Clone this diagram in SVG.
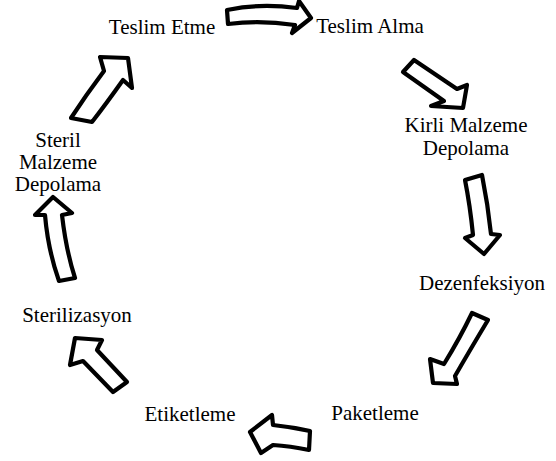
<svg xmlns="http://www.w3.org/2000/svg" width="556" height="461" viewBox="0 0 556 461">
<defs>
<filter id="soft" x="-10%" y="-10%" width="120%" height="120%"><feGaussianBlur stdDeviation="0.5"/></filter>
<style>
.lbl{font-family:"Liberation Serif","Times New Roman",serif;font-size:21px;fill:#000;text-anchor:middle}
.arr{fill:#fff;stroke:#000;stroke-width:4.2;stroke-linejoin:round;filter:url(#soft)}
</style>
</defs>
<rect width="556" height="461" fill="#fff"/>
<g id="connectors">
<path class="arr" d="M227,10 Q260,3 297,8 L299,1 L311,18 L292,33 L295,25 Q260,20 228,24 Z"/>
<path class="arr" d="M414,60 L457,89 L467,85 L463,108 L431,106 L444,101 L403,72 Z"/>
<path class="arr" d="M465,180 L482,175 Q488,205 491,234 L500,235 L484,254 L465,238 L473,235 Q470,205 465,180 Z"/>
<path class="arr" d="M472,313 L488,320 Q470,350 455,376 L457,384 L433,383 L430,359 L444,364 Q460,338 472,313 Z"/>
<path class="arr" d="M310,431 L309,450 Q290,446 273,445 L261,453 L250,432 L272,415 L273,425 Q292,427 310,431 Z"/>
<path class="arr" d="M127,382 L113,392 L83,361 L70,365 L75,338 L102,340 L97,350 Z"/>
<path class="arr" d="M53,197 L72,213 L62,215 Q66,250 75,278 L59,281 Q48,250 45,215 L35,215 Z"/>
<path class="arr" d="M71,118 Q86,95 104,71 L100,57 L128,58 L132,88 L123,80 Q106,104 92,122 Z"/>
</g>
<g id="teslim-etme"><text class="lbl" x="162" y="34">Teslim Etme</text></g>
<g id="teslim-alma"><text class="lbl" x="370" y="33">Teslim Alma</text></g>
<g id="kirli-malzeme-depolama"><text class="lbl" x="466" y="132">Kirli Malzeme</text><text class="lbl" x="466" y="155">Depolama</text></g>
<g id="dezenfeksiyon"><text class="lbl" x="482" y="290">Dezenfeksiyon</text></g>
<g id="paketleme"><text class="lbl" x="375" y="420">Paketleme</text></g>
<g id="etiketleme"><text class="lbl" x="190" y="421">Etiketleme</text></g>
<g id="sterilizasyon"><text class="lbl" x="77" y="322">Sterilizasyon</text></g>
<g id="steril-malzeme-depolama"><text class="lbl" x="58" y="147">Steril</text><text class="lbl" x="58" y="169">Malzeme</text><text class="lbl" x="58" y="191">Depolama</text></g>
</svg>
